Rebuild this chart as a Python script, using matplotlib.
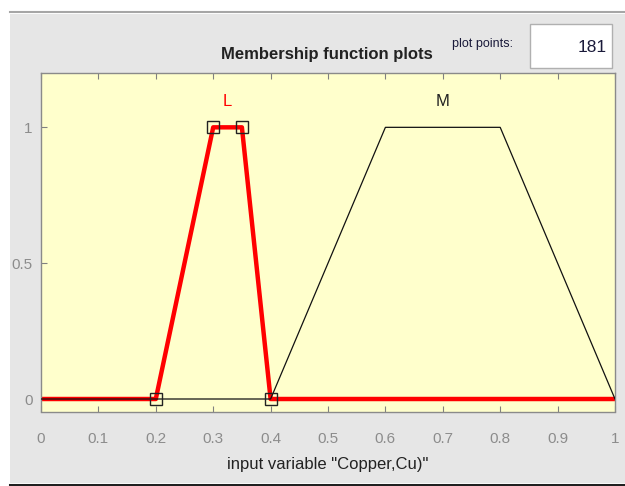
import matplotlib
matplotlib.use("Agg")
import matplotlib.pyplot as plt
from matplotlib.patches import Rectangle
from matplotlib.lines import Line2D

plt.rcParams['font.family'] = ['Liberation Sans Narrow', 'Liberation Sans', 'DejaVu Sans']

# Data
x_range = [0.0, 1.0]
mf_names = ["L", "M"]
mf_params = [[0.2, 0.3, 0.35, 0.4], [0.4, 0.6, 0.8, 1.0]]
x_ticks = [0, 0.1, 0.2, 0.3, 0.4, 0.5, 0.6, 0.7, 0.8, 0.9, 1]
x_tick_labels = ["0", "0.1", "0.2", "0.3", "0.4", "0.5", "0.6", "0.7", "0.8", "0.9", "1"]
y_ticks = [0, 0.5, 1]
y_tick_labels = ["0", "0.5", "1"]
selected = 0
plot_points = "181"

W, H = 625, 486
fig = plt.figure(figsize=(W / 100, H / 100), dpi=100, facecolor="white")

# grey panel background
fig.patches.append(Rectangle((10 / W, 1 - 483 / H), (W - 10) / W, (483 - 14) / H,
                             transform=fig.transFigure, facecolor="#e6e6e6", edgecolor="none", zorder=-10))
fig.lines.append(Line2D([10 / W, 1], [1 - 12.5 / H, 1 - 12.5 / H], transform=fig.transFigure,
                        color="#a6a6a6", lw=1.5, zorder=-5))
fig.lines.append(Line2D([10 / W, 1], [1 - 485 / H, 1 - 485 / H], transform=fig.transFigure,
                        color="#202020", lw=2.2, zorder=-5))

ax = fig.add_axes([41 / W, 1 - 411.5 / H, 574 / W, (411.5 - 73) / H])
ax.set_zorder(5)
ax.set_facecolor("#ffffcc")
ax.set_xlim(x_range)
ax.set_ylim(-0.046, 1.2)

def trap_xy(p):
    a, b, c, d = p
    return [x_range[0], a, b, c, d, x_range[1]], [0, 0, 1, 1, 0, 0]

# selected MF (red, thick) first
xs, ys = trap_xy(mf_params[selected])
ax.plot(xs, ys, color="#ff0000", lw=3.2, solid_capstyle="butt", zorder=2)
ax.plot(mf_params[selected], [0, 1, 1, 0], linestyle="none", marker="s", markersize=8,
        markerfacecolor="none", markeredgecolor="#222222", markeredgewidth=1.0, zorder=4)
for i, p in enumerate(mf_params):
    if i == selected:
        continue
    xs, ys = trap_xy(p)
    ax.plot(xs, ys, color="#111111", lw=0.9, zorder=3)

for i, (name, p) in enumerate(zip(mf_names, mf_params)):
    cx = (p[1] + p[2]) / 2
    ax.text(cx, 1.095, name, color="#ff0000" if i == selected else "#222222",
            ha="center", va="center", fontsize=12)

ax.set_xticks(x_ticks)
ax.set_xticklabels(x_tick_labels)
ax.set_yticks(y_ticks)
ax.set_yticklabels(y_tick_labels)
ax.tick_params(axis="both", direction="in", length=4, width=0.8, colors="#808080",
               labelcolor="#8c8c8c", labelsize=11)
ax.tick_params(axis="x", top=True, pad=15)
ax.tick_params(axis="y", pad=6)
for s in ax.spines.values():
    s.set_color("#8a8a8a")
    s.set_linewidth(1.0)

ax.set_xlabel('input variable "Copper,Cu)"', fontsize=12, color="#222222", labelpad=8)
fig.text(327 / W, 1 - 55 / H, "Membership function plots", ha="center", va="center",
         fontsize=12, fontweight="bold", color="#222222")
fig.text(483 / W, 1 - 44 / H, "plot points:", ha="center", va="center", fontsize=9,
         color="#1a1a3a")
fig.patches.append(Rectangle((530 / W, 1 - 68 / H), 82 / W, 44 / H, transform=fig.transFigure,
                             facecolor="white", edgecolor="#b0b0b0", lw=1.0, zorder=1))
fig.text(607 / W, 1 - 47 / H, plot_points, ha="right", va="center", fontsize=12.5,
         color="#1a1a3a", zorder=3)

fig.savefig("out.png", dpi=100, facecolor="white")
